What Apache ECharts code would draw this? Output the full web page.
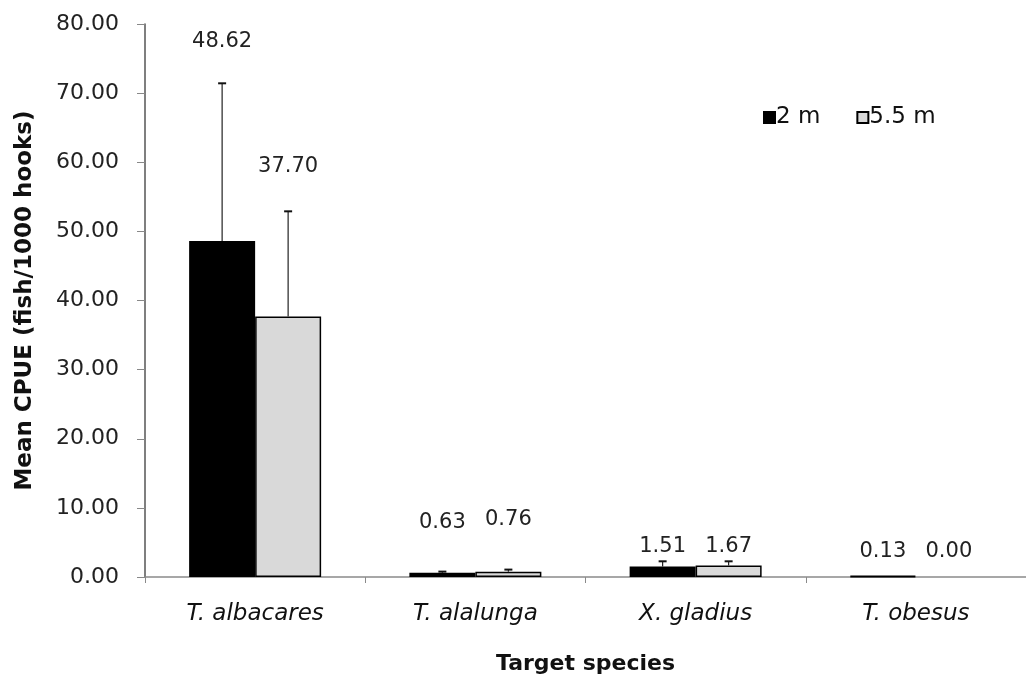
<!DOCTYPE html>
<html>
<head>
<meta charset="utf-8">
<script src="https://cdn.jsdelivr.net/npm/echarts@6/dist/echarts.min.js"></script>
<style>
html,body{margin:0;padding:0;background:#fff;}
#chart{width:1026px;height:680px;}
</style>
</head>
<body>
<div id="chart"></div>
<script>
// ---- data ----
const categories = ['T. albacares', 'T. alalunga', 'X. gladius', 'T. obesus'];
const seriesNames = ['2 m', '5.5 m'];
const mean2m = [48.62, 0.63, 1.51, 0.13];
const mean55m = [37.70, 0.76, 1.67, 0.00];
const err2m = [22.8, 0.15, 0.76, 0];
const err55m = [15.2, 0.31, 0.60, 0];
const yTicks = { min: 0, max: 80, interval: 10 };

// ---- layout / style ----
const BAR_W = 66;
const CAP_W = 8;
const labelLift = [[42, 45], [49, 50], [15, 15], [25, 25]]; // px above error-bar top
const FONT = 'DejaVu Sans';

const errData = [];
[mean2m, mean55m].forEach((arr, s) => {
  const errs = s === 0 ? err2m : err55m;
  arr.forEach((v, i) => errData.push([i, v, errs[i], s]));
});

// zero-height bars draw no outline
const barItems = arr => arr.map(v => v === 0 ? { value: v, itemStyle: { borderWidth: 0 } } : v);

const chart = echarts.init(document.getElementById('chart'), null, { renderer: 'canvas' });

const option = {
  animation: false,
  backgroundColor: '#fff',
  grid: { left: 145, right: -7, top: 24, bottom: 103, containLabel: false },
  legend: {
    data: seriesNames,
    icon: 'rect',
    left: 763,
    top: 106,
    padding: 0,
    itemWidth: 11,
    itemHeight: 11,
    itemGap: 36,
    textStyle: { fontFamily: FONT, fontSize: 23, color: '#111', padding: [0, 0, 0, -4] }
  },
  xAxis: {
    type: 'category',
    data: categories,
    axisLine: { show: true, lineStyle: { color: '#8a8a8a', width: 1.5 } },
    axisTick: { show: true, alignWithLabel: false, length: 6, inside: false, lineStyle: { color: '#8a8a8a' } },
    axisLabel: { fontFamily: FONT, fontStyle: 'italic', fontSize: 23, color: '#111', margin: 26 },
    name: 'Target species',
    nameLocation: 'middle',
    nameGap: 76,
    nameTextStyle: { fontFamily: FONT, fontWeight: 'bold', fontSize: 22, color: '#111' }
  },
  yAxis: {
    type: 'value',
    min: yTicks.min,
    max: yTicks.max,
    interval: yTicks.interval,
    splitLine: { show: false },
    axisLine: { show: true, lineStyle: { color: '#555', width: 1.5 } },
    axisTick: { show: true, length: 8, lineStyle: { color: '#888' } },
    axisLabel: { fontFamily: FONT, fontSize: 22, color: '#222', margin: 26, formatter: v => v.toFixed(2) },
    name: 'Mean CPUE (fish/1000 hooks)',
    nameLocation: 'middle',
    nameRotate: 90,
    nameGap: 108,
    nameTextStyle: { fontFamily: FONT, fontWeight: 'bold', fontSize: 23, color: '#111' }
  },
  series: [
    {
      name: seriesNames[0], type: 'bar', data: barItems(mean2m), barWidth: BAR_W, barGap: '0%',
      itemStyle: { color: '#000', borderColor: '#000', borderWidth: 2 }
    },
    {
      name: seriesNames[1], type: 'bar', data: barItems(mean55m), barWidth: BAR_W, barGap: '0%',
      itemStyle: { color: '#d9d9d9', borderColor: '#000', borderWidth: 1.5 }
    },
    {
      type: 'custom',
      data: errData,
      z: 10,
      silent: true,
      encode: { x: 0, y: 1 },
      renderItem: function (params, api) {
        const i = api.value(0), v = api.value(1), e = api.value(2), s = api.value(3);
        const base = api.coord([i, v]);
        const top = api.coord([i, v + e]);
        const x = base[0] + (s === 0 ? -BAR_W / 2 : BAR_W / 2);
        const children = [];
        if (e > 0) {
          children.push({ type: 'line', shape: { x1: x, y1: base[1], x2: x, y2: top[1] }, style: { stroke: '#222', lineWidth: 1.2 } });
          children.push({ type: 'line', shape: { x1: x - CAP_W / 2, y1: top[1], x2: x + CAP_W / 2, y2: top[1] }, style: { stroke: '#111', lineWidth: 2 } });
        }
        children.push({
          type: 'text',
          style: {
            x: x, y: top[1] - labelLift[i][s],
            text: v.toFixed(2), align: 'center', verticalAlign: 'middle',
            font: '21px "DejaVu Sans"', fill: '#222'
          }
        });
        return { type: 'group', children: children };
      }
    }
  ]
};
chart.setOption(option);
</script>
</body>
</html>
